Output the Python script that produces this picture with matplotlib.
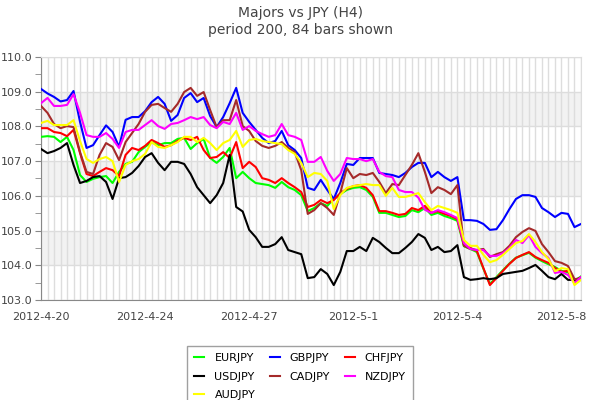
import matplotlib
matplotlib.use('Agg')
import matplotlib.pyplot as plt
import numpy as np

# H4 closes, 84 bars
eur = [107.70, 107.72, 107.70, 107.55, 107.70, 107.32, 106.60, 106.40, 106.49, 106.54,
       106.57, 106.37, 106.69, 106.92, 106.98, 107.26, 107.41, 107.55, 107.46, 107.52,
       107.52, 107.64, 107.67, 107.35, 107.52, 107.64, 107.09, 106.95, 107.12, 107.38,
       106.51, 106.69, 106.51, 106.37, 106.34, 106.31, 106.23, 106.40, 106.25, 106.17,
       106.02, 105.56, 105.65, 105.79, 105.71, 105.91, 106.05, 106.17, 106.23, 106.25,
       106.17, 105.97, 105.51, 105.51, 105.45, 105.39, 105.42, 105.59, 105.53, 105.65,
       105.45, 105.51, 105.42, 105.36, 105.28, 104.55, 104.47, 104.38, 103.90, 103.46,
       103.66, 103.86, 104.05, 104.22, 104.29, 104.36, 104.22, 104.12, 104.03, 103.95,
       103.84, 103.80, 103.55, 103.68]
gbp = [109.08, 108.95, 108.85, 108.72, 108.76, 109.02, 108.13, 107.38, 107.46, 107.75,
       108.03, 107.84, 107.41, 108.19, 108.27, 108.27, 108.44, 108.70, 108.85, 108.65,
       108.16, 108.33, 108.82, 108.96, 108.70, 108.82, 108.30, 107.98, 108.27, 108.67,
       109.11, 108.39, 108.13, 107.90, 107.67, 107.52, 107.58, 107.87, 107.46, 107.32,
       107.09, 106.23, 106.17, 106.46, 106.17, 105.91, 106.37, 106.92, 106.89, 107.09,
       107.09, 107.09, 106.66, 106.63, 106.60, 106.54, 106.66, 106.83, 106.95, 106.95,
       106.54, 106.69, 106.54, 106.43, 106.54, 105.30, 105.30, 105.28, 105.19, 105.02,
       105.04, 105.30, 105.62, 105.91, 106.02, 106.02, 105.97, 105.65, 105.53, 105.39,
       105.51, 105.48, 105.10, 105.19]
chf = [107.95, 107.95, 107.84, 107.81, 107.72, 107.90, 107.23, 106.63, 106.57, 106.69,
       106.80, 106.74, 106.57, 107.18, 107.38, 107.32, 107.44, 107.61, 107.52, 107.41,
       107.46, 107.58, 107.67, 107.61, 107.70, 107.32, 107.09, 107.12, 107.26, 107.09,
       107.55, 106.80, 106.98, 106.83, 106.51, 106.46, 106.37, 106.51, 106.37, 106.25,
       106.11, 105.68, 105.74, 105.88, 105.79, 105.88, 106.08, 106.20, 106.28, 106.31,
       106.23, 106.02, 105.56, 105.56, 105.51, 105.45, 105.48, 105.65, 105.59, 105.71,
       105.51, 105.56, 105.48, 105.42, 105.33, 104.58, 104.50, 104.41, 103.92, 103.43,
       103.63, 103.84, 104.04, 104.21, 104.30, 104.38, 104.24, 104.15, 104.07, 103.92,
       103.81, 103.84, 103.52, 103.66]
usd = [107.35, 107.23, 107.29, 107.38, 107.52, 106.89, 106.37, 106.43, 106.54, 106.57,
       106.40, 105.91, 106.51, 106.54, 106.66, 106.86, 107.12, 107.23, 106.95, 106.74,
       106.98, 106.98, 106.92, 106.63, 106.25, 106.02, 105.79, 106.02, 106.37, 107.18,
       105.68, 105.55, 105.02, 104.81, 104.53, 104.53, 104.61, 104.81, 104.44, 104.38,
       104.32, 103.63, 103.66, 103.89, 103.75, 103.43, 103.81, 104.41, 104.41, 104.53,
       104.41, 104.79, 104.67, 104.50, 104.35, 104.35, 104.50, 104.67, 104.90, 104.79,
       104.44, 104.53, 104.38, 104.41, 104.58, 103.66, 103.58, 103.60, 103.63, 103.60,
       103.63, 103.75, 103.78, 103.81, 103.84, 103.92, 104.01, 103.84, 103.66, 103.60,
       103.75, 103.58, 103.58, 103.63]
cad = [108.59, 108.39, 108.07, 107.95, 108.01, 107.98, 107.26, 106.69, 106.63, 107.18,
       107.52, 107.41, 107.03, 107.55, 107.81, 108.07, 108.42, 108.62, 108.65, 108.53,
       108.42, 108.65, 108.99, 109.11, 108.88, 108.99, 108.47, 107.98, 108.18, 108.18,
       108.76, 108.01, 107.87, 107.58, 107.44, 107.38, 107.44, 107.55, 107.38, 107.26,
       106.74, 105.48, 105.59, 105.79, 105.65, 105.45, 106.08, 106.80, 106.51, 106.63,
       106.60, 106.66, 106.40, 106.08, 106.34, 106.31, 106.60, 106.89, 107.23, 106.69,
       106.08, 106.25, 106.17, 106.05, 106.31, 104.56, 104.47, 104.44, 104.47, 104.24,
       104.32, 104.38, 104.56, 104.81, 104.96, 105.07, 104.99, 104.61, 104.38, 104.12,
       104.07, 103.98, 103.60, 103.63]
nzd = [108.67, 108.82, 108.59, 108.59, 108.62, 108.93, 108.39, 107.75, 107.70, 107.70,
       107.81, 107.64, 107.38, 107.84, 107.90, 107.90, 108.04, 108.18, 108.01, 107.93,
       108.07, 108.10, 108.18, 108.27, 108.21, 108.27, 108.04, 107.95, 108.13, 108.07,
       108.39, 107.90, 108.01, 107.87, 107.78, 107.70, 107.75, 108.07, 107.75, 107.70,
       107.61, 106.98, 106.98, 107.12, 106.72, 106.43, 106.63, 107.09, 107.06, 107.06,
       107.00, 107.06, 106.69, 106.57, 106.54, 106.17, 106.11, 106.11, 105.95, 105.60,
       105.51, 105.59, 105.53, 105.45, 105.36, 104.64, 104.47, 104.44, 104.44, 104.27,
       104.27, 104.35, 104.50, 104.73, 104.64, 104.87, 104.53, 104.35, 104.21, 103.78,
       103.81, 103.72, 103.49, 103.66]
aud = [108.10, 108.16, 108.04, 108.04, 108.04, 108.18, 107.58, 107.06, 106.95, 107.06,
       107.12, 107.00, 106.40, 106.89, 107.00, 107.06, 107.21, 107.55, 107.41, 107.38,
       107.46, 107.55, 107.70, 107.70, 107.55, 107.67, 107.52, 107.32, 107.52, 107.61,
       107.87, 107.41, 107.61, 107.64, 107.58, 107.55, 107.52, 107.49, 107.32, 107.21,
       106.95, 106.54, 106.66, 106.63, 106.43, 105.62, 106.02, 106.23, 106.28, 106.31,
       106.34, 106.31, 106.31, 106.00, 106.23, 105.97, 105.97, 106.02, 106.08, 105.82,
       105.59, 105.71, 105.65, 105.59, 105.51, 104.73, 104.56, 104.56, 104.30, 104.09,
       104.15, 104.30, 104.47, 104.64, 104.70, 104.90, 104.67, 104.38, 104.18, 103.83,
       103.92, 103.89, 103.43, 103.58]

date_pos = [0, 16, 32, 48, 64, 80]
date_labels = ['2012-4-20', '2012-4-24', '2012-4-27', '2012-5-1', '2012-5-4', '2012-5-8']

series = [('EURJPY', eur, '#00ff00'), ('GBPJPY', gbp, '#0000ff'), ('CHFJPY', chf, '#ff0000'),
          ('USDJPY', usd, '#000000'), ('CADJPY', cad, '#a52a2a'), ('NZDJPY', nzd, '#ff00ff'),
          ('AUDJPY', aud, '#ffff00')]

fig = plt.figure(figsize=(6, 4), dpi=100)
ax = fig.add_axes([41 / 600, 1 - 300 / 400, 540 / 600, 243 / 400])

for lo in (104, 106, 108):
    ax.axhspan(lo, lo + 1, color='#f2f2f2', zorder=0, lw=0)

x = np.arange(len(eur))
lines = {}
for name, vals, col in series:
    lines[name], = ax.plot(x, vals, color=col, lw=1.5, label=name, zorder=3)

ax.set_xlim(0, len(eur) - 1)
ax.set_ylim(103, 110)
ax.set_xticks(date_pos)
ax.set_xticklabels(date_labels)
ax.set_xticks(x, minor=True)
ax.set_yticks(np.arange(103, 110.5, 1))
ax.set_yticklabels(['%.1f' % v for v in np.arange(103, 110.5, 1)])
ax.set_yticks(np.arange(103.5, 110, 1), minor=True)
ax.grid(axis='x', which='both', color='#dddddd', lw=1, zorder=1)
ax.grid(axis='y', which='major', color='#dddddd', lw=1, zorder=1)
ax.set_axisbelow(True)

ax.tick_params(axis='x', which='both', length=0, pad=9, labelsize=8, labelcolor='#444444')
ax.tick_params(axis='y', which='both', length=4, color='#888888', labelsize=8,
               labelcolor='#444444', pad=2)
for s in ('left', 'bottom'):
    ax.spines[s].set_color('#888888')
for s in ('top', 'right'):
    ax.spines[s].set_color('#dddddd')

fig.text(0.5, 1 - 13 / 400, 'Majors vs JPY (H4)', ha='center', va='center',
         fontsize=10, color='#444444')
fig.text(0.5, 1 - 30 / 400, 'period 200, 84 bars shown', ha='center', va='center',
         fontsize=10, color='#444444')

order = ['EURJPY', 'USDJPY', 'AUDJPY', 'GBPJPY', 'CADJPY', 'CHFJPY', 'NZDJPY']
leg = fig.legend([lines[n] for n in order], order, loc='upper center',
                 bbox_to_anchor=(0.5, 1 - 340 / 400), ncol=3, fontsize=8,
                 frameon=True, fancybox=False, edgecolor='#888888',
                 handlelength=0.9, handletextpad=0.9, columnspacing=1.3,
                 labelspacing=0.75, borderpad=0.7)
leg.get_frame().set_linewidth(1)

fig.savefig('out.png', dpi=100)
